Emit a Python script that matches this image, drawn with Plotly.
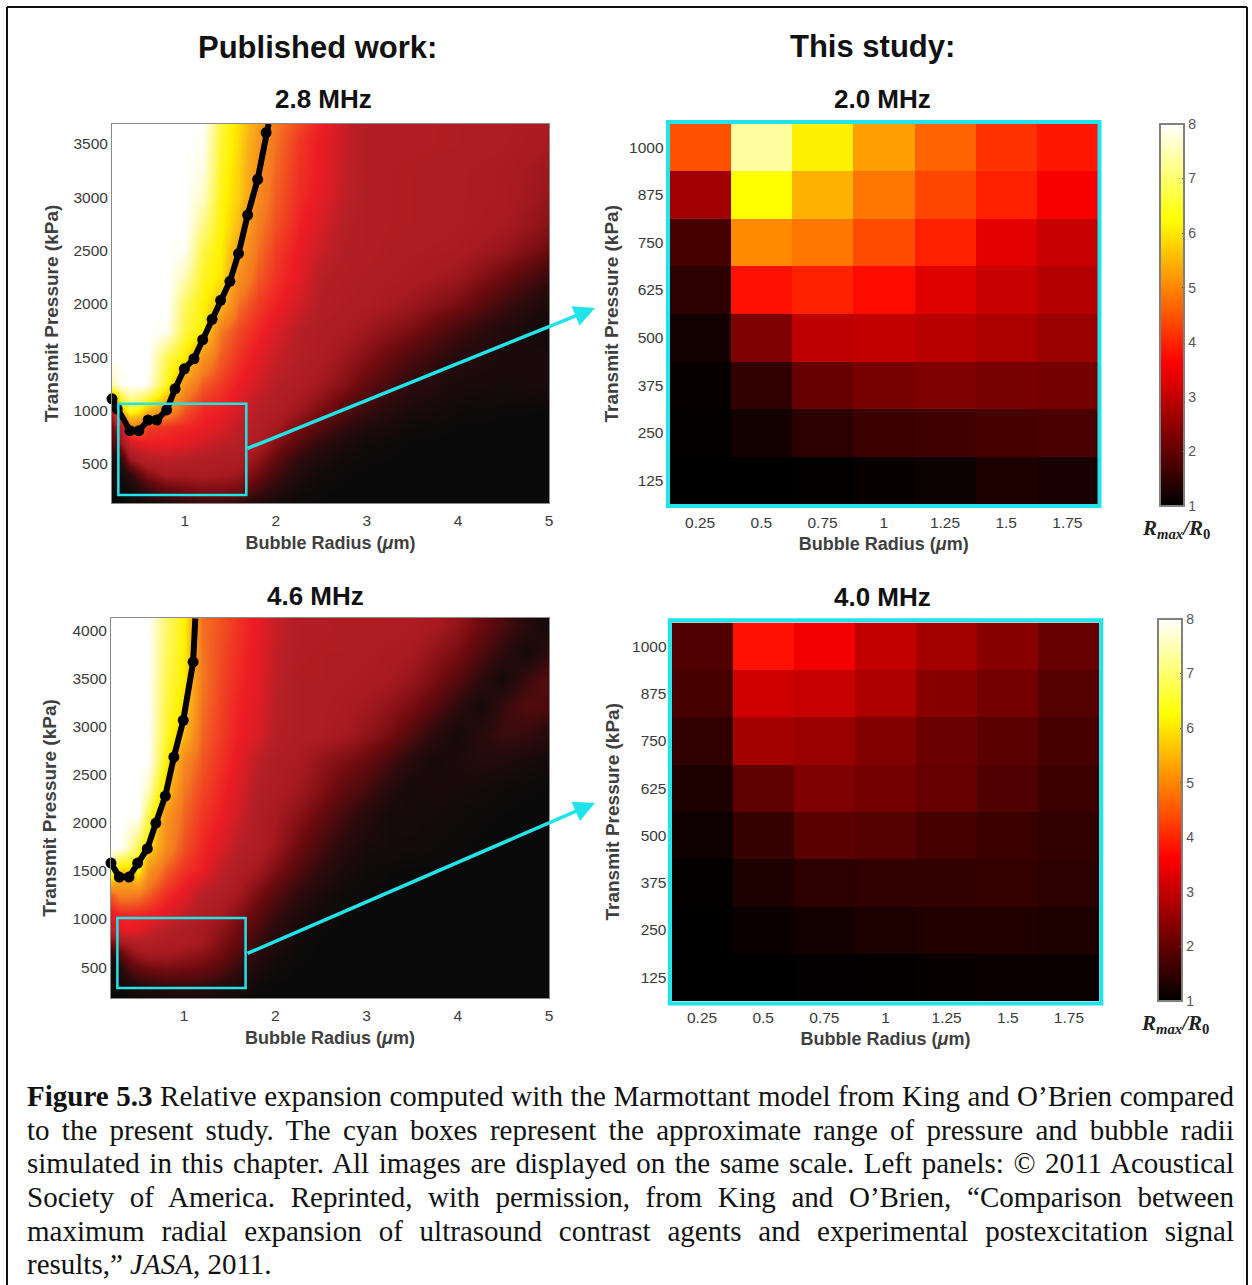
import plotly.graph_objects as go

W, H = 1252, 1285

# ---------- published work grids ----------
p28_radius = [0.2, 0.3, 0.4, 0.5, 0.6, 0.8, 1.0, 1.2, 1.4, 1.6, 1.8, 2.0, 2.25, 2.5, 2.75, 3.0, 3.5, 4.0, 4.5, 5.0]
p28_pressure = [135, 250, 400, 550, 700, 850, 1000, 1250, 1500, 1750, 2000, 2250, 2500, 2750, 3000, 3250, 3500, 3687]
p28_z = [
    [1, 1, 1.05, 1.15, 1.25, 1.45, 1.6, 1.7, 1.7, 1.6, 1.4, 1.2, 1.05, 1, 1, 1, 1, 1, 1, 1],
    [1, 1.03, 1.2, 1.4, 1.7, 2.05, 2.2, 2.3, 2.3, 2.2, 1.8, 1.5, 1.15, 1.05, 1, 1, 1, 1, 1, 1],
    [1.05, 1.2, 1.6, 2.05, 2.4, 2.7, 2.7, 2.75, 2.7, 2.6, 2.2, 1.8, 1.4, 1.15, 1.05, 1, 1, 1, 1, 1],
    [1.3, 1.7, 2.6, 2.85, 3, 3.1, 3.0, 2.9, 2.85, 2.8, 2.5, 2.1, 1.6, 1.35, 1.15, 1.05, 1, 1, 1, 1],
    [1.8, 2.6, 3.3, 3.5, 3.6, 3.6, 3.5, 3.3, 3.1, 3, 2.8, 2.4, 2.0, 1.6, 1.35, 1.15, 1.02, 1, 1, 1],
    [2.2, 3.0, 4.5, 4.4, 3.9, 3.8, 3.7, 3.6, 3.4, 3.1, 2.9, 2.7, 2.3, 2.0, 1.65, 1.4, 1.1, 1.02, 1, 1],
    [2.8, 5.5, 6.5, 6.2, 5.5, 4.9, 4.1, 3.7, 3.6, 3.3, 3.0, 2.85, 2.6, 2.3, 2.0, 1.7, 1.3, 1.1, 1.04, 1.02],
    [7.5, 7.9, 8, 8, 7.9, 6.4, 5.0, 4.2, 3.9, 3.6, 3.3, 3, 2.85, 2.65, 2.4, 2.1, 1.6, 1.3, 1.25, 1.3],
    [8, 8, 8, 8, 8, 6.8, 6.2, 5.0, 4.2, 3.8, 3.5, 3.2, 2.95, 2.8, 2.6, 2.4, 1.9, 1.5, 1.3, 1.3],
    [8, 8, 8, 8, 8, 7.9, 6.7, 6.2, 4.5, 4.0, 3.7, 3.4, 3.0, 2.85, 2.75, 2.6, 2.3, 1.8, 1.4, 1.1],
    [8, 8, 8, 8, 8, 8, 6.9, 6.3, 5.6, 4.4, 3.9, 3.65, 3.3, 2.95, 2.85, 2.8, 2.6, 2.3, 1.8, 1.3],
    [8, 8, 8, 8, 8, 8, 7.5, 6.5, 6.1, 4.9, 4.2, 3.8, 3.5, 3.0, 2.9, 2.85, 2.75, 2.6, 2.2, 1.7],
    [8, 8, 8, 8, 8, 8, 7.9, 6.7, 6.2, 5.2, 4.4, 3.9, 3.55, 3.2, 2.95, 2.9, 2.8, 2.75, 2.55, 2.2],
    [8, 8, 8, 8, 8, 8, 8, 7.2, 6.3, 5.6, 4.6, 4.1, 3.65, 3.35, 3.0, 2.9, 2.85, 2.8, 2.7, 2.45],
    [8, 8, 8, 8, 8, 8, 8, 7.6, 6.4, 5.8, 4.8, 4.2, 3.75, 3.5, 3.1, 2.9, 2.85, 2.8, 2.75, 2.55],
    [8, 8, 8, 8, 8, 8, 8, 7.8, 6.5, 5.85, 4.9, 4.3, 3.8, 3.55, 3.15, 2.9, 2.85, 2.8, 2.75, 2.6],
    [8, 8, 8, 8, 8, 8, 8, 7.9, 6.6, 5.95, 5.0, 4.4, 3.85, 3.55, 3.2, 2.9, 2.9, 2.85, 2.8, 2.7],
    [8, 8, 8, 8, 8, 8, 8, 8, 6.7, 6.0, 5.2, 4.5, 4.0, 3.6, 3.2, 2.9, 2.9, 2.85, 2.8, 2.75],
]
p28_curve_r = [0.2, 0.257, 0.397, 0.495, 0.598, 0.692, 0.8, 0.893, 0.995, 1.1, 1.196, 1.3, 1.393, 1.495, 1.59, 1.69, 1.8, 1.893, 1.92]
p28_curve_p = [1111, 1017, 813, 813, 913, 913, 1007, 1205, 1393, 1487, 1665, 1856, 2035, 2213, 2473, 2833, 3168, 3607, 3687]

p46_radius = [0.2, 0.3, 0.4, 0.5, 0.6, 0.8, 1.0, 1.2, 1.4, 1.6, 1.8, 2.0, 2.25, 2.5, 2.75, 3.0, 3.25, 3.5, 3.75, 4.0, 4.25, 4.5, 4.75, 5.0]
p46_pressure = [178, 300, 450, 600, 750, 900, 1050, 1250, 1500, 1750, 2080, 2360, 2645, 2930, 3215, 3500, 3780, 4065, 4135]
p46_z = [
    [1, 1, 1, 1.05, 1.1, 1.15, 1.2, 1.2, 1.15, 1.05, 1, 1, 1, 1, 1, 1, 1, 1, 1, 1, 1, 1, 1, 1],
    [1.05, 1.15, 1.3, 1.5, 1.6, 1.7, 1.75, 1.7, 1.55, 1.35, 1.1, 1, 1, 1, 1, 1, 1, 1, 1, 1, 1, 1, 1, 1],
    [1.1, 1.4, 1.8, 2.0, 2.1, 2.2, 2.15, 2.1, 1.9, 1.6, 1.3, 1.1, 1, 1, 1, 1, 1, 1, 1, 1, 1, 1, 1, 1],
    [1.3, 1.9, 2.3, 2.5, 2.6, 2.6, 2.5, 2.4, 2.2, 1.85, 1.5, 1.2, 1.05, 1, 1, 1, 1, 1, 1, 1, 1, 1, 1, 1],
    [2.2, 2.6, 2.8, 2.9, 2.9, 2.85, 2.8, 2.65, 2.35, 2.1, 1.7, 1.4, 1.1, 1, 1, 1, 1, 1, 1, 1, 1, 1, 1, 1],
    [3.1, 3.5, 3.6, 3.5, 3.3, 3.0, 2.85, 2.7, 2.5, 2.2, 1.9, 1.55, 1.2, 1.05, 1, 1, 1, 1, 1, 1, 1, 1, 1, 1],
    [3.5, 3.7, 3.7, 3.7, 3.65, 3.5, 3.1, 2.85, 2.7, 2.4, 2.1, 1.75, 1.4, 1.15, 1.02, 1, 1, 1, 1, 1, 1, 1, 1, 1],
    [4.2, 4.6, 4.6, 4.5, 4.2, 3.75, 3.5, 3.0, 2.85, 2.65, 2.3, 2.0, 1.6, 1.3, 1.1, 1, 1, 1, 1, 1, 1, 1, 1, 1],
    [7, 5.8, 5.8, 6.3, 5, 4.2, 3.8, 3.6, 3.1, 2.85, 2.65, 2.35, 1.95, 1.6, 1.3, 1.1, 1.03, 1, 1, 1, 1, 1, 1, 1],
    [8, 8, 7.5, 6.8, 6.1, 4.8, 4.1, 3.7, 3.4, 3, 2.85, 2.6, 2.2, 1.85, 1.5, 1.25, 1.2, 1.18, 1.1, 1.05, 1, 1, 1, 1],
    [8, 8, 8, 8, 6.8, 5.0, 4.3, 3.85, 3.6, 3.25, 2.85, 2.7, 2.45, 2.15, 1.8, 1.5, 1.2, 1.25, 1.2, 1.12, 1.05, 1.02, 1, 1],
    [8, 8, 8, 8, 7.6, 5.8, 4.5, 4.0, 3.7, 3.4, 2.95, 2.8, 2.65, 2.4, 2.1, 1.85, 1.5, 1.2, 1.3, 1.25, 1.2, 1.1, 1.05, 1.02],
    [8, 8, 8, 8, 8, 6.3, 4.8, 4.15, 3.8, 3.5, 3.1, 2.85, 2.75, 2.5, 2.35, 2.15, 1.85, 1.5, 1.2, 1.35, 1.45, 1.4, 1.25, 1.15],
    [8, 8, 8, 8, 8, 6.6, 5.6, 4.3, 3.9, 3.6, 3.4, 3, 2.85, 2.8, 2.7, 2.5, 2.3, 1.95, 1.55, 1.2, 1.55, 1.75, 1.7, 1.5],
    [8, 8, 8, 8, 8, 6.7, 6.0, 4.4, 3.95, 3.65, 3.45, 3.05, 2.85, 2.8, 2.75, 2.65, 2.5, 2.3, 2.0, 1.6, 1.2, 1.7, 1.95, 1.9],
    [8, 8, 8, 8, 8, 6.8, 6.2, 4.5, 4, 3.7, 3.5, 3.1, 2.85, 2.85, 2.8, 2.75, 2.7, 2.55, 2.3, 2, 1.6, 1.2, 1.75, 2.0],
    [8, 8, 8, 8, 8, 6.9, 6.25, 4.45, 4.05, 3.75, 3.5, 3.15, 2.9, 2.85, 2.85, 2.8, 2.75, 2.7, 2.5, 2.3, 1.95, 1.6, 1.2, 1.6],
    [8, 8, 8, 8, 8, 7, 6.3, 4.4, 4.1, 3.8, 3.55, 3.2, 2.9, 2.9, 2.85, 2.85, 2.85, 2.8, 2.7, 2.5, 2.2, 1.9, 1.55, 1.15],
    [8, 8, 8, 8, 8, 7, 6.3, 4.4, 4.1, 3.8, 3.55, 3.2, 2.9, 2.9, 2.85, 2.85, 2.85, 2.8, 2.7, 2.5, 2.2, 1.85, 1.45, 1.1],
]
p46_curve_r = [0.2, 0.291, 0.397, 0.492, 0.598, 0.692, 0.795, 0.889, 0.992, 1.1, 1.124]
p46_curve_p = [1583, 1437, 1437, 1583, 1733, 2000, 2281, 2687, 3069, 3677, 4130]

pub_x_ticks = [1, 2, 3, 4, 5]
p28_y_ticks = [500, 1000, 1500, 2000, 2500, 3000, 3500]
p46_y_ticks = [500, 1000, 1500, 2000, 2500, 3000, 3500, 4000]

# ---------- this study grids ----------
study_radius = [0.25, 0.5, 0.75, 1.0, 1.25, 1.5, 1.75]
study_radius_text = ["0.25", "0.5", "0.75", "1", "1.25", "1.5", "1.75"]
study_pressure = [125, 250, 375, 500, 625, 750, 875, 1000]
mhz20_z = [
    [1.0, 1.01, 1.03, 1.08, 1.12, 1.3, 1.25],
    [1.03, 1.2, 1.45, 1.6, 1.65, 1.72, 1.77],
    [1.08, 1.5, 2.05, 2.25, 2.3, 2.25, 2.2],
    [1.2, 2.3, 2.95, 3.0, 2.9, 2.75, 2.6],
    [1.45, 3.8, 3.98, 3.75, 3.3, 3.05, 2.85],
    [1.72, 5.05, 4.85, 4.4, 3.95, 3.35, 3.05],
    [2.65, 6.25, 5.45, 4.85, 4.35, 3.95, 3.55],
    [4.45, 7.35, 6.1, 5.25, 4.65, 4.15, 3.85],
]
mhz40_z = [
    [1.0, 1.0, 1.02, 1.03, 1.07, 1.1, 1.1],
    [1.0, 1.1, 1.2, 1.3, 1.35, 1.35, 1.3],
    [1.05, 1.3, 1.45, 1.5, 1.5, 1.55, 1.45],
    [1.15, 1.57, 1.93, 1.87, 1.72, 1.6, 1.5],
    [1.3, 2.0, 2.3, 2.2, 2.05, 1.83, 1.6],
    [1.5, 2.7, 2.6, 2.35, 2.1, 1.93, 1.72],
    [1.72, 3.15, 3.05, 2.8, 2.4, 2.2, 1.87],
    [1.83, 3.8, 3.5, 3.0, 2.7, 2.4, 2.05],
]
bar_ticks = [1, 2, 3, 4, 5, 6, 7, 8]

caption_lines = [
    "<b>Figure 5.3</b> Relative expansion computed with the Marmottant model from King and O’Brien compared",
    "to the present study. The cyan boxes represent the approximate range of pressure and bubble radii",
    "simulated in this chapter. All images are displayed on the same scale. Left panels: © 2011 Acoustical",
    "Society of America. Reprinted, with permission, from King and O’Brien, “Comparison between",
    "maximum radial expansion of ultrasound contrast agents and experimental postexcitation signal",
    "results,” <i>JASA</i>, 2011.",
]

# ---------- styling ----------
SANS = "Liberation Sans, Arial, sans-serif"
SERIF = "Liberation Serif, Times New Roman, serif"
CYAN = "#20e4ea"
TICK = "#3a3a3a"
TITLE = "#3f3f3f"


def sc(v):
    return (v - 1) / 7


hot = [[0, "#000000"], [0.375, "#ff0000"], [0.75, "#ffff00"], [1, "#ffffff"]]
pub_scale = [
    [sc(1), "#0a0a0a"], [sc(1.6), "#2c0a0c"], [sc(2.2), "#6c0a0e"], [sc(2.7), "#a81a20"],
    [sc(3.0), "#b51f26"], [sc(3.6), "#ed1c24"], [sc(4.5), "#f47a20"], [sc(5.5), "#fbb017"],
    [sc(6.25), "#fff200"], [1, "#ffffff"],
]


def px(x):
    return x / W


def py(y):
    return 1 - y / H


fig = go.Figure()

# per panel: x tick-label gap, y tick-label gap, x title gap, y title gap
panels = [
    dict(n="", box=(112, 549, 124, 503), xr=[0.2, 5], yr=[135, 3687], yt=p28_y_ticks, gaps=(3, 0, 8, 9)),
    dict(n="2", box=(111, 549, 618, 998), xr=[0.2, 5], yr=[178, 4135], yt=p46_y_ticks, gaps=(3, 0, 8, 10)),
    dict(n="3", box=(669.5, 1098, 123.5, 504), xr=[0.125, 1.875], yr=[62.5, 1062.5], yt=study_pressure, gaps=(7, 5, 7, 5)),
    dict(n="4", box=(671.5, 1099.5, 622.5, 1001), xr=[0.125, 1.875], yr=[62.5, 1062.5], yt=study_pressure, gaps=(5, 4, 7, 7)),
]

fig.add_trace(go.Heatmap(x=p28_radius, y=p28_pressure, z=p28_z, zmin=1, zmax=8, colorscale=pub_scale,
                         zsmooth="best", showscale=False, xaxis="x", yaxis="y"))
fig.add_trace(go.Heatmap(x=p46_radius, y=p46_pressure, z=p46_z, zmin=1, zmax=8, colorscale=pub_scale,
                         zsmooth="best", showscale=False, xaxis="x2", yaxis="y2"))


def bar(y_top, x_left):
    return dict(x=px(x_left), xanchor="left", xpad=0, y=py(y_top), yanchor="top", ypad=0,
                lenmode="pixels", len=382, thicknessmode="pixels", thickness=24,
                outlinecolor="#808080", outlinewidth=2, tickvals=bar_ticks, ticks="inside", ticklen=3,
                tickcolor="#555555", tickprefix="\u00a0", tickfont=dict(family=SANS, size=14, color="#555555"))


fig.add_trace(go.Heatmap(x=study_radius, y=study_pressure, z=mhz20_z, zmin=1, zmax=8, colorscale=hot,
                         colorbar=bar(124, 1160), xaxis="x3", yaxis="y3"))
fig.add_trace(go.Heatmap(x=study_radius, y=study_pressure, z=mhz40_z, zmin=1, zmax=8, colorscale=hot,
                         colorbar=bar(619, 1158), xaxis="x4", yaxis="y4"))

for r, p, xa, ya in [(p28_curve_r, p28_curve_p, "x", "y"), (p46_curve_r, p46_curve_p, "x2", "y2")]:
    sizes = [11] * (len(r) - 1) + [0]
    fig.add_trace(go.Scatter(x=r, y=p, mode="lines+markers", cliponaxis=False,
                             line=dict(color="#000000", width=6),
                             marker=dict(color="#000000", size=sizes, opacity=1, line=dict(width=0)),
                             xaxis=xa, yaxis=ya, showlegend=False))

layout = dict(width=W, height=H, margin=dict(l=0, r=0, t=0, b=0, autoexpand=False),
              paper_bgcolor="white", plot_bgcolor="white", showlegend=False, font=dict(family=SANS))

for i, p in enumerate(panels):
    x0, x1, y0, y1 = p["box"]
    study = i >= 2
    tf = dict(family=SANS, size=15.5, color=TICK)
    gx, gy, tx, ty = p["gaps"]
    layout["xaxis" + p["n"]] = dict(
        domain=[px(x0), px(x1)], range=p["xr"], anchor="y" + p["n"],
        tickvals=study_radius if study else pub_x_ticks,
        ticktext=study_radius_text if study else [str(v) for v in pub_x_ticks],
        ticks="", showgrid=False, zeroline=False, tickfont=tf,
        showline=not study, mirror=True, linecolor="#8a8a8a", linewidth=1, ticklabelstandoff=gx,
        title=dict(text="<b>Bubble Radius (<i>μ</i>m)</b>", font=dict(family=SANS, size=18, color=TITLE),
                   standoff=tx))
    layout["yaxis" + p["n"]] = dict(
        domain=[py(y1), py(y0)], range=p["yr"], anchor="x" + p["n"], tickvals=p["yt"],
        ticks="", showgrid=False, zeroline=False, tickfont=tf,
        showline=not study, mirror=True, linecolor="#8a8a8a", linewidth=1, ticklabelstandoff=gy,
        title=dict(text="<b>Transmit Pressure (kPa)</b>", font=dict(family=SANS, size=19, color=TITLE),
                   standoff=ty))

fig.update_layout(**layout)

# cyan boxes
for xa, ya, x0, x1, y0, y1 in [("x", "y", 0.27, 1.675, 209, 1066), ("x2", "y2", 0.27, 1.675, 282, 1010)]:
    fig.add_shape(type="rect", xref=xa, yref=ya, x0=x0, x1=x1, y0=y0, y1=y1, line=dict(color=CYAN, width=2.5))
for x0, x1, y0, y1 in [(668, 1099.5, 122, 506), (669.8, 1101.3, 620.3, 1003.5)]:
    fig.add_shape(type="rect", xref="paper", yref="paper", x0=px(x0), x1=px(x1), y0=py(y0), y1=py(y1),
                  line=dict(color=CYAN, width=4))

# outer frame (top, left, right)
frame = dict(type="line", xref="paper", yref="paper", line=dict(color="#111111", width=2))
fig.add_shape(x0=px(7), x1=px(1247), y0=py(7), y1=py(7), **frame)
fig.add_shape(x0=px(7), x1=px(7), y0=py(7), y1=py(1285), **frame)
fig.add_shape(x0=px(1247), x1=px(1247), y0=py(7), y1=py(1285), **frame)

ann = []
for text, x, y, size in [("Published work:", 317, 48, 31), ("This study:", 872, 47, 31),
                         ("2.8 MHz", 324, 99, 26), ("2.0 MHz", 882, 99, 26),
                         ("4.6 MHz", 315, 596, 26), ("4.0 MHz", 882, 597, 26)]:
    ann.append(dict(text=f"<b>{text}</b>", x=px(x), y=py(y), xref="paper", yref="paper", showarrow=False,
                    xanchor="center", yanchor="middle", font=dict(family=SANS, size=size, color="#111111")))
for x, y in [(1176, 529), (1175, 1024)]:
    ann.append(dict(text="<b><i>R<sub>max</sub>/R</i><sub>0</sub></b>", x=px(x), y=py(y), xref="paper", yref="paper",
                    showarrow=False, xanchor="center", yanchor="middle",
                    font=dict(family=SERIF, size=21, color="#222222")))
# arrows
for x0, y0, x1, y1 in [(246, 449, 595, 308), (246, 954, 595, 803)]:
    ann.append(dict(x=px(x1), y=py(y1), xref="paper", yref="paper", ax=x0 - x1, ay=y0 - y1, axref="pixel", ayref="pixel",
                    showarrow=True, arrowhead=2, arrowsize=1.2, arrowwidth=3.5, arrowcolor=CYAN, text=""))
# caption
for text, y in zip(caption_lines, [1096, 1130, 1163, 1197, 1231, 1264]):
    ann.append(dict(text=text, x=px(25), y=py(y), xref="paper", yref="paper", showarrow=False, xanchor="left",
                    yanchor="middle", align="left", font=dict(family=SERIF, size=29, color="#111111")))
fig.update_layout(annotations=ann)

post = """
document.body.style.margin='0';
document.querySelectorAll('.annotation-text').forEach(function(t){
  var s=t.textContent;
  if(s.length>60){var w=t.getComputedTextLength();var n=s.split(' ').length-1;
    t.style.wordSpacing=((1207-w)/n)+'px';}
});
"""
fig.write_html("out.html", post_script=post, config={"displayModeBar": False})
